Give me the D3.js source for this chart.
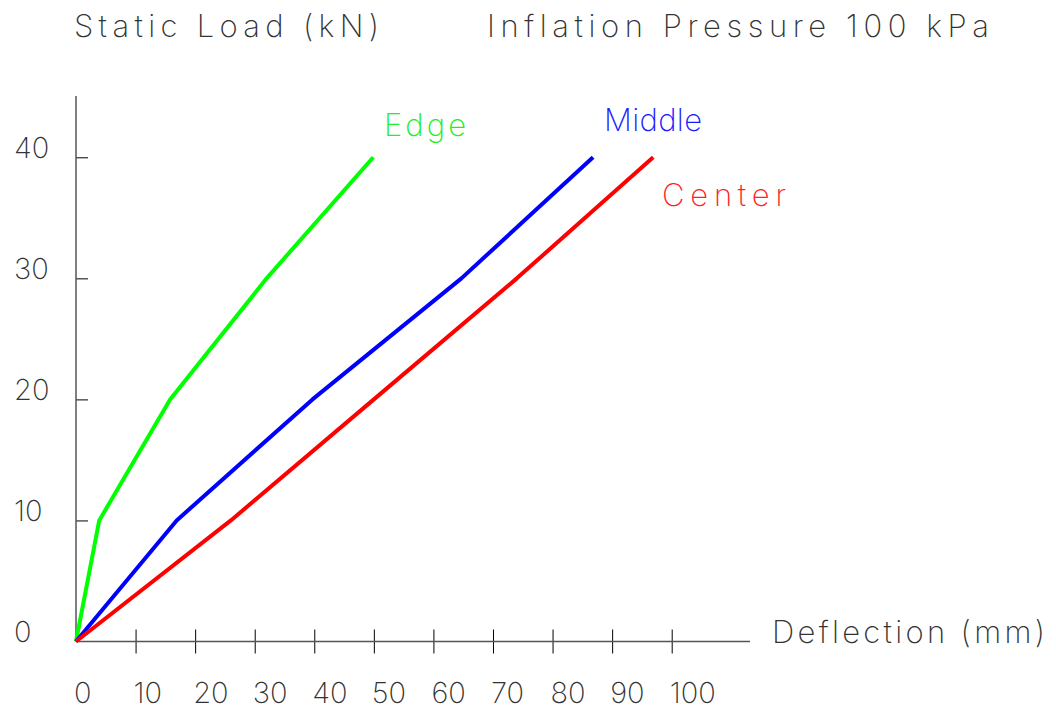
<!DOCTYPE html>
<html>
<head>
<meta charset="utf-8">
<script src="https://cdn.jsdelivr.net/npm/d3@7"></script>
<style>
  body { margin: 0; background: #fff; }
  svg { opacity: 0.999; }
  text { font-family: "Inter", "Roboto", "DejaVu Sans", sans-serif; font-weight: 200; }
</style>
</head>
<body>
<div id="chart"></div>
<script>
// load steps (kN) and deflection (mm)
var loads = [0, 10, 20, 30, 40];
var edgeDefl = [0, 3.9, 15.8, 32.0, 49.9];
var middleDefl = [0, 16.9, 39.7, 64.7, 86.8];
var centerDefl = [0, 26.0, 50.0, 74.0, 96.9];
var seriesNames = ["Edge", "Middle", "Center"];
var xTicks = [10, 20, 30, 40, 50, 60, 70, 80, 90, 100];
var xTickLabels = [0, 10, 20, 30, 40, 50, 60, 70, 80, 90, 100];
var yTicks = [10, 20, 30, 40];
var yTickLabels = [0, 10, 20, 30, 40];

var width = 1056, height = 710;

var x = d3.scaleLinear().domain([0, 100]).range([76, 671.7]);
var y = d3.scaleLinear().domain([0, 40]).range([641.5, 157.3]);

var svg = d3.select("#chart")
    .append("svg")
    .attr("width", width)
    .attr("height", height);

// axes
var xAxis = d3.axisBottom(x)
    .tickValues(xTicks)
    .tickSize(12)
    .tickFormat("");
var gx = svg.append("g")
    .attr("transform", "translate(0," + y(0) + ")")
    .call(xAxis);
gx.select(".domain").remove();
gx.selectAll(".tick line").attr("y1", -12).attr("stroke", "#000");
gx.append("line")
    .attr("x1", x(0)).attr("x2", 750)
    .attr("stroke", "#555").attr("stroke-width", 1.5);

var yAxis = d3.axisLeft(y)
    .tickValues(yTicks)
    .tickSize(13)
    .tickFormat("");
var gy = svg.append("g")
    .attr("transform", "translate(" + x(0) + ",0)")
    .call(yAxis);
gy.select(".domain").remove();
gy.selectAll(".tick line").attr("x2", 12).attr("stroke", "#000");
gy.append("line")
    .attr("y1", 96).attr("y2", y(0))
    .attr("stroke", "#555").attr("stroke-width", 1.5);

// tick labels
svg.selectAll(".xlab")
    .data(xTickLabels)
    .enter()
    .append("text")
    .attr("class", "xlab")
    .attr("x", function(d) { return x(d) - 2; })
    .attr("y", 703)
    .attr("font-size", 29)
    .attr("fill", "#333")
    .text(function(d) { return d; });

svg.selectAll(".ylab")
    .data(yTickLabels)
    .enter()
    .append("text")
    .attr("class", "ylab")
    .attr("x", 14)
    .attr("y", function(d) { return y(d) + 0.5; })
    .attr("font-size", 29)
    .attr("fill", "#333")
    .text(function(d) { return d; });

// titles
svg.append("text")
    .attr("x", 74).attr("y", 37)
    .attr("font-size", 31)
    .attr("fill", "#333")
    .attr("textLength", 305)
    .attr("lengthAdjust", "spacing")
    .text("Static Load (kN)");

svg.append("text")
    .attr("x", 487).attr("y", 37)
    .attr("font-size", 31)
    .attr("fill", "#333")
    .attr("textLength", 502)
    .attr("lengthAdjust", "spacing")
    .text("Inflation Pressure 100 kPa");

svg.append("text")
    .attr("x", 772).attr("y", 643)
    .attr("font-size", 31)
    .attr("fill", "#333")
    .attr("textLength", 273)
    .attr("lengthAdjust", "spacing")
    .text("Deflection (mm)");

// curves
var series = [
    {name: seriesNames[0], values: edgeDefl, color: "#00ff00", text: "#22ee22", lx: 384, ly: 136, lw: 82},
    {name: seriesNames[1], values: middleDefl, color: "#0000ff", text: "#1a1aff", lx: 604, ly: 131, lw: 98},
    {name: seriesNames[2], values: centerDefl, color: "#ff0000", text: "#ff2222", lx: 662, ly: 206, lw: 124}
];

var line = d3.line()
    .x(function(d) { return x(d[0]); })
    .y(function(d) { return y(d[1]); });

svg.selectAll(".curve")
    .data(series)
    .enter()
    .append("path")
    .attr("class", "curve")
    .attr("fill", "none")
    .attr("stroke", function(d) { return d.color; })
    .attr("stroke-width", 4)
    .attr("stroke-linejoin", "round")
    .attr("d", function(d) {
        return line(d.values.map(function(v, i) { return [v, loads[i]]; }));
    });

svg.selectAll(".slab")
    .data(series)
    .enter()
    .append("text")
    .attr("class", "slab")
    .attr("x", function(d) { return d.lx; })
    .attr("y", function(d) { return d.ly; })
    .attr("font-size", 31)
    .attr("fill", function(d) { return d.text; })
    .attr("textLength", function(d) { return d.lw; })
    .attr("lengthAdjust", "spacing")
    .text(function(d) { return d.name; });
</script>
</body>
</html>
